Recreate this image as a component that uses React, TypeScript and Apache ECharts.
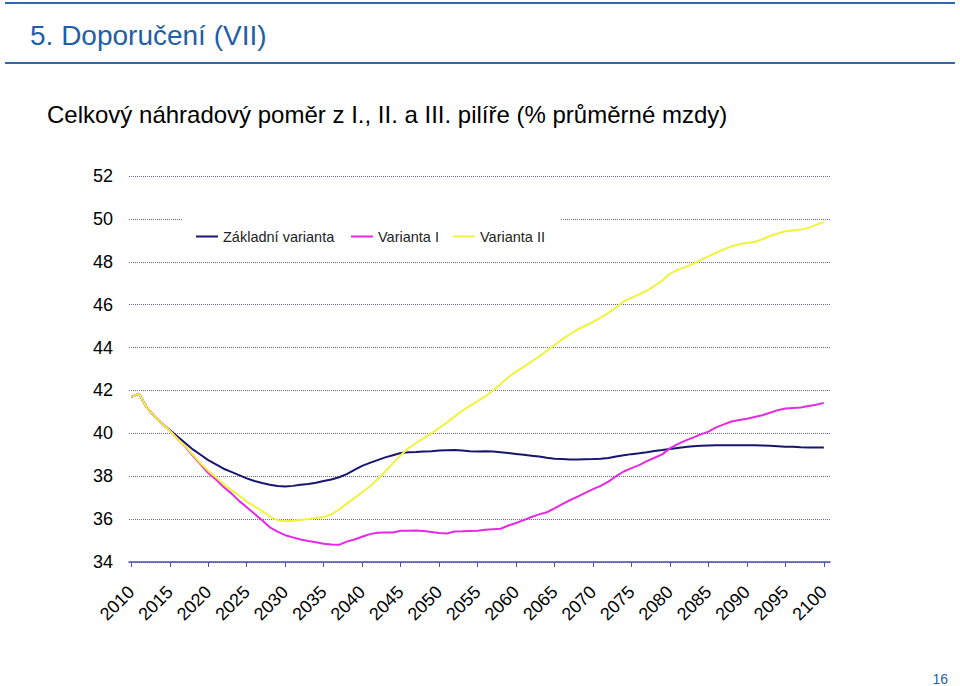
import React, { useEffect, useRef } from 'react';
import * as echarts from 'echarts';

const YEARS: number[] = Array.from({ length: 91 }, (_, i) => 2010 + i);

const ZAKLADNI = [
  41.7, 41.85, 41.2, 40.8, 40.45, 40.15, 39.85, 39.55, 39.25, 39.0,
  38.75, 38.55, 38.35, 38.2, 38.05, 37.9, 37.78, 37.68, 37.6, 37.54,
  37.52, 37.55, 37.6, 37.64, 37.7, 37.78, 37.85, 37.95, 38.1, 38.3,
  38.48, 38.62, 38.75, 38.88, 38.98, 39.08, 39.12, 39.13, 39.15, 39.17,
  39.2, 39.21, 39.22, 39.2, 39.17, 39.15, 39.16, 39.15, 39.12, 39.08,
  39.04, 39.0, 38.96, 38.92, 38.86, 38.82, 38.8, 38.78, 38.78, 38.79,
  38.8, 38.82, 38.85, 38.92, 38.98, 39.03, 39.07, 39.12, 39.18, 39.22,
  39.27, 39.32, 39.36, 39.4, 39.42, 39.43, 39.44, 39.44, 39.44, 39.44,
  39.44, 39.44, 39.43, 39.42, 39.4, 39.38, 39.38, 39.35, 39.34, 39.34,
  39.34,
];

const VARIANTA_I = [
  41.7, 41.85, 41.2, 40.8, 40.45, 40.12, 39.75, 39.38, 38.95, 38.55,
  38.15, 37.85, 37.5, 37.2, 36.85, 36.55, 36.25, 35.95, 35.62, 35.42,
  35.25, 35.15, 35.05, 34.98, 34.92, 34.85, 34.82, 34.8, 34.95, 35.05,
  35.18, 35.3, 35.36, 35.38, 35.38, 35.46, 35.46, 35.47, 35.45, 35.4,
  35.35, 35.33, 35.42, 35.43, 35.45, 35.46, 35.5, 35.53, 35.55, 35.7,
  35.82, 35.95, 36.1, 36.22, 36.32, 36.5, 36.7, 36.88, 37.05, 37.22,
  37.4, 37.55, 37.75, 38.0, 38.22, 38.38, 38.52, 38.7, 38.86, 39.02,
  39.3, 39.5, 39.66, 39.8, 39.95, 40.08, 40.28, 40.42, 40.55, 40.62,
  40.68, 40.76, 40.84, 40.96, 41.08, 41.16, 41.18, 41.2, 41.27, 41.33,
  41.42,
];

const VARIANTA_II = [
  41.7, 41.85, 41.2, 40.8, 40.45, 40.12, 39.75, 39.4, 39.0, 38.6,
  38.25, 37.95, 37.62, 37.35, 37.1, 36.82, 36.6, 36.38, 36.12, 35.95,
  35.9, 35.92, 35.96, 36.0, 36.05, 36.1, 36.22, 36.45, 36.72, 36.98,
  37.25, 37.52, 37.85, 38.22, 38.6, 38.98, 39.3, 39.55, 39.78, 40.0,
  40.25, 40.5, 40.78, 41.05, 41.28, 41.5, 41.72, 42.0, 42.3, 42.62,
  42.88, 43.1, 43.35, 43.58, 43.85, 44.12, 44.38, 44.62, 44.85, 45.02,
  45.2, 45.4, 45.62, 45.88, 46.15, 46.32, 46.48, 46.65, 46.88, 47.12,
  47.45, 47.62, 47.75, 47.9, 48.08, 48.25, 48.42, 48.58, 48.72, 48.82,
  48.88, 48.92, 49.05, 49.2, 49.32, 49.42, 49.46, 49.5, 49.58, 49.72,
  49.85,
];

const X_TICKS = [
  2010, 2015, 2020, 2025, 2030, 2035, 2040, 2045, 2050, 2055,
  2060, 2065, 2070, 2075, 2080, 2085, 2090, 2095, 2100,
];
const Y_MIN = 34;
const Y_MAX = 52;
const Y_STEP = 2;

const SERIES_NAMES = ['Základní varianta', 'Varianta I', 'Varianta II'];
const SERIES_COLORS = ['#16166e', '#e42ae4', '#f2f23c'];

const TITLE = '5. Doporučení (VII)';
const SUBTITLE = 'Celkový náhradový poměr z I., II. a III. pilíře (% průměrné mzdy)';
const PAGE_NUMBER = '16';

const FONT = 'Arial, "Liberation Sans", Helvetica, sans-serif';

export default function App() {
  const ref = useRef<HTMLDivElement>(null);

  useEffect(() => {
    document.body.style.margin = '0';
    if (!ref.current) return;
    const chart = echarts.init(ref.current, null, { renderer: 'svg' });

    const values = [ZAKLADNI, VARIANTA_I, VARIANTA_II];
    const series = SERIES_NAMES.map((name, k) => ({
      name,
      type: 'line',
      symbol: 'none',
      showSymbol: false,
      color: SERIES_COLORS[k],
      itemStyle: { color: SERIES_COLORS[k] },
      lineStyle: { color: SERIES_COLORS[k], width: 2 },
      data: YEARS.map((y, i) => [y, values[k][i]]),
      z: 2 + k,
    }));

    const legendCommon = {
      icon: 'rect',
      itemWidth: 22,
      itemHeight: 2,
      padding: 0,
      top: 229,
      z: 10,
      textStyle: { fontSize: 14.5, color: '#222', fontFamily: FONT },
    };

    chart.setOption({
      animation: false,
      backgroundColor: '#ffffff',
      textStyle: { fontFamily: FONT },
      grid: { left: 129, right: 130, top: 176, bottom: 124, containLabel: false },
      xAxis: {
        type: 'value',
        min: 2009.7,
        max: 2100.8,
        axisLine: { show: true, onZero: false, lineStyle: { color: '#4f4fb0', width: 1.5 } },
        axisTick: { show: true, customValues: X_TICKS, length: 5, lineStyle: { color: '#4f4fb0' } },
        axisLabel: {
          customValues: X_TICKS,
          rotate: 45,
          fontSize: 18,
          color: '#000',
          fontFamily: FONT,
          margin: 27,
          formatter: (v: number) => String(v),
        },
        splitLine: { show: false },
      },
      yAxis: {
        type: 'value',
        min: Y_MIN,
        max: Y_MAX,
        interval: Y_STEP,
        axisLine: { show: false },
        axisTick: { show: false },
        axisLabel: { fontSize: 18, color: '#000', margin: 16, fontFamily: FONT },
        splitLine: { show: true, lineStyle: { type: 'dotted', color: '#66668a', width: 1 } },
      },
      legend: [
        { ...legendCommon, left: 196, data: [SERIES_NAMES[0]] },
        { ...legendCommon, left: 351, data: [SERIES_NAMES[1]] },
        { ...legendCommon, left: 453, data: [SERIES_NAMES[2]] },
      ],
      graphic: [
        { type: 'rect', shape: { x: 182, y: 206, width: 378, height: 48 }, style: { fill: '#ffffff' }, z: 3 },
        { type: 'line', shape: { x1: 5, y1: 3, x2: 955, y2: 3 }, style: { stroke: '#2f67a8', lineWidth: 2 }, z: 5 },
        { type: 'line', shape: { x1: 5, y1: 63, x2: 955, y2: 63 }, style: { stroke: '#2f67a8', lineWidth: 2 }, z: 5 },
        {
          type: 'text', x: 30, y: 35, z: 5,
          style: { text: TITLE, fontSize: 28, fontFamily: FONT, fill: '#1f5fa8', verticalAlign: 'middle', align: 'left' },
        },
        {
          type: 'text', x: 47, y: 114, z: 5,
          style: { text: SUBTITLE, fontSize: 24, fontFamily: FONT, fill: '#000', verticalAlign: 'middle', align: 'left' },
        },
        {
          type: 'text', x: 948, y: 679, z: 5,
          style: { text: PAGE_NUMBER, fontSize: 14, fontFamily: FONT, fill: '#1f5fa8', verticalAlign: 'middle', align: 'right' },
        },
      ],
      series,
    });

    return () => chart.dispose();
  }, []);

  return <div ref={ref} style={{ width: 960, height: 686 }} />;
}
